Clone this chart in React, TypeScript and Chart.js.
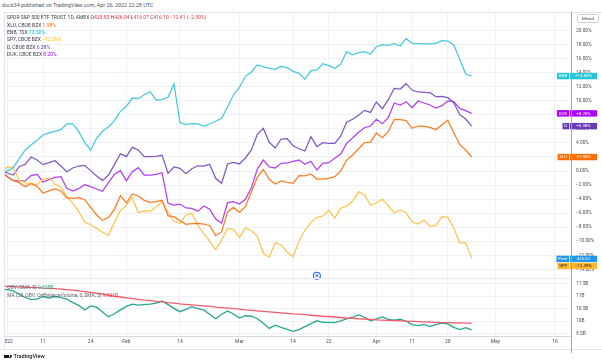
import React, { useEffect, useRef } from "react";
import { Chart, registerables } from "chart.js";

Chart.register(...registerables);

const FONT = "Roboto, 'Liberation Sans', Arial, sans-serif";

// trading-day index: -1 = Dec 31 2021, 0 = Jan 3 2022 ... 78 = Apr 26 2022
const firstIndex = -1;

const tickIndex = [0, 6, 14, 20, 29, 39, 48, 54, 62, 68, 74, 82, 92];
const tickLabels = ["2022", "11", "24", "Feb", "14", "Mar", "14", "22", "Apr", "11", "20", "May", "16"];

const pctTicks = [-14, -12, -10, -8, -6, -4, -2, 0, 2, 4, 6, 8, 10, 12, 14, 16, 18, 20];
const obvTicks = [9.5, 10, 10.5, 11, 11.5];
const obvTickLabels = ["9.5B", "10B", "10.5B", "11B", "11.5B"];

const enbValues = [0, 0.0, 0.47, 1.75, 2.99, 3.7, 4.36, 5.12, 5.41, 5.64, 5.88, 6.69, 6.69, 5.6, 4.08, 2.99, 4.65, 5.69, 6.26, 7.16, 8.49, 9.2, 10.38, 10.29, 10.85, 11.28, 10.1, 10.15, 10.48, 12.38, 6.88, 6.59, 6.73, 6.69, 6.4, 6.69, 7.07, 7.5, 9.15, 10.85, 11.9, 13.47, 14.08, 15.08, 14.84, 14.61, 14.47, 14.89, 14.7, 14.18, 13.9, 13.04, 14.27, 14.37, 15.26, 14.98, 14.61, 15.17, 16.97, 16.54, 16.83, 16.97, 16.64, 17.68, 17.97, 17.88, 18.11, 17.78, 18.82, 18.16, 18.11, 18.07, 18.07, 18.16, 18.54, 18.49, 17.92, 15.89, 13.8, 13.5];
const dValues = [0, -0.28, -0.57, 0.62, 0.95, 1.99, 1.56, 0.9, 1.18, 1.47, 0.71, -0.1, 0.43, 0.71, 0.81, 0.05, -0.71, -1.33, -0.57, 0.9, 2.46, 2.04, 3.37, 2.99, 2.04, 2.04, 2.09, 2.23, -0.33, 0.57, 0.38, -0.38, 0.33, 0.74, 0.71, 0.95, -1.04, -1.75, 1.0, 1.23, 1.0, 1.85, 2.99, 5.22, 6.07, 4.08, 3.27, 4.55, 4.6, 3.6, 3.17, 2.84, 4.88, 3.46, 4.03, 3.93, 3.93, 4.98, 6.93, 7.35, 7.92, 8.63, 8.34, 9.82, 8.87, 10.15, 11.76, 11.66, 12.42, 11.48, 11.24, 11.19, 11.14, 10.57, 10.62, 10.43, 9.72, 8.01, 7.4, 6.38];
const dukValues = [0, -0.81, -1.38, -1.42, -1.42, -0.66, -0.47, -1.56, -1.23, -0.9, -0.81, -2.46, -2.84, -2.51, -1.94, -2.23, -2.56, -2.89, -1.61, -0.47, 0.05, -1.38, -0.1, 0.47, -0.57, -0.57, -0.47, -0.24, -4.6, -4.84, -4.7, -5.26, -5.31, -5.74, -4.98, -5.45, -6.83, -7.44, -4.5, -4.36, -4.69, -4.03, -2.37, 0.28, 1.56, 0.57, 0.43, 1.09, 1.14, 1.38, 1.56, 0.95, 1.38, 0.14, 1.09, 1.19, 1.8, 2.42, 3.93, 4.69, 5.5, 6.16, 6.4, 7.35, 6.73, 7.6, 9.67, 9.39, 9.86, 9.0, 9.96, 9.67, 9.39, 8.96, 9.29, 9.96, 9.86, 8.91, 8.58, 8.2];
const xluValues = [0, -0.81, -1.33, -1.66, -2.23, -1.8, -2.18, -3.13, -2.84, -2.56, -2.84, -3.84, -3.89, -3.8, -4.08, -5.17, -6.26, -7.02, -6.59, -5.45, -3.51, -4.55, -3.27, -3.56, -4.17, -4.46, -4.36, -4.17, -6.4, -6.5, -7.07, -7.59, -7.5, -7.44, -7.54, -7.78, -9.2, -8.63, -5.83, -5.17, -5.88, -5.07, -2.94, -0.9, 0.24, -1.18, -1.85, -1.42, -1.61, -1.75, -0.66, -0.71, -0.43, -1.14, -1.14, -1.04, -0.81, 0.0, 1.56, 2.28, 3.17, 4.03, 4.1, 5.41, 4.74, 5.6, 7.35, 7.3, 7.16, 6.07, 6.4, 6.35, 6.21, 5.88, 6.59, 7.21, 5.45, 3.74, 2.99, 1.98];
const spyValues = [0, 0.57, 0.52, -1.33, -1.66, -1.75, -1.94, -1.23, -0.95, -1.9, -2.23, -3.7, -4.6, -5.74, -7.3, -7.64, -8.16, -8.72, -9.15, -7.25, -5.64, -4.88, -3.8, -5.93, -5.69, -5.74, -5.12, -4.41, -5.88, -7.16, -7.44, -6.26, -6.02, -7.7, -8.92, -10.0, -11.19, -9.82, -8.2, -8.3, -9.48, -8.11, -8.49, -9.25, -11.71, -12.28, -10.19, -10.53, -11.52, -12.19, -10.0, -8.39, -7.3, -6.59, -6.4, -5.59, -6.69, -5.31, -4.98, -4.31, -2.94, -3.41, -4.84, -4.55, -4.03, -4.95, -5.97, -5.55, -5.93, -7.25, -7.54, -6.97, -7.87, -7.73, -6.5, -6.59, -8.11, -10.24, -10.19, -12.39];

// OBV (SMA 5) and its 20-period MA, in billions
const obvValues = [11.27, 11.25, 11.2, 11.07, 10.95, 10.86, 10.88, 10.98, 10.92, 10.98, 10.94, 10.88, 10.74, 10.63, 10.45, 10.61, 10.56, 10.37, 10.18, 10.3, 10.45, 10.59, 10.68, 10.64, 10.66, 10.68, 10.72, 10.8, 10.66, 10.51, 10.38, 10.47, 10.58, 10.5, 10.45, 10.28, 10.1, 10.28, 10.41, 10.29, 10.13, 10.22, 10.2, 10.1, 9.92, 9.72, 9.85, 9.76, 9.68, 9.6, 9.67, 9.79, 9.91, 10.02, 9.96, 9.96, 9.95, 10.02, 10.1, 10.16, 10.25, 10.16, 10.02, 10.1, 10.17, 10.08, 10.05, 10.08, 10.0, 9.87, 9.83, 9.88, 9.79, 9.87, 9.93, 9.9, 9.76, 9.67, 9.75, 9.658];
const obvMaValues = [11.39, 11.38, 11.37, 11.36, 11.35, 11.34, 11.33, 11.31, 11.3, 11.29, 11.27, 11.25, 11.23, 11.2, 11.17, 11.14, 11.11, 11.07, 11.03, 10.99, 10.96, 10.93, 10.9, 10.87, 10.84, 10.82, 10.79, 10.77, 10.74, 10.72, 10.69, 10.67, 10.65, 10.63, 10.61, 10.59, 10.56, 10.54, 10.52, 10.5, 10.48, 10.45, 10.43, 10.41, 10.39, 10.37, 10.35, 10.33, 10.31, 10.29, 10.28, 10.26, 10.24, 10.22, 10.2, 10.19, 10.17, 10.15, 10.13, 10.12, 10.1, 10.09, 10.08, 10.06, 10.05, 10.04, 10.03, 10.02, 10.01, 10.0, 9.99, 9.98, 9.97, 9.96, 9.95, 9.95, 9.94, 9.94, 9.93, 9.931];

const dividendIndex = 52; // SPY ex-dividend, Mar 18
const postPrice = "416.61";

const series = [
  { name: "XLU", exch: "CBOE BZX", values: xluValues, line: "#ff7b22", tag: "#ff6d00", text: "#ff6d00", fg: "#ffffff" },
  { name: "ENB", exch: "TSX", values: enbValues, line: "#45c9dd", tag: "#26c6da", text: "#00bcd4", fg: "#ffffff" },
  { name: "SPY", exch: "CBOE BZX", values: spyValues, line: "#ffc34d", tag: "#ffb82e", text: "#ffb300", fg: "#131722" },
  { name: "D", exch: "CBOE BZX", values: dValues, line: "#7e57c2", tag: "#673ab7", text: "#673ab7", fg: "#ffffff" },
  { name: "DUK", exch: "CBOE BZX", values: dukValues, line: "#b33ff2", tag: "#aa00ff", text: "#aa00ff", fg: "#ffffff" },
];

// geometry (page px)
const PLOT_LEFT = 4;
const AXIS_X = 571;
const DAY0_X = 7.3;
const DAY_W = 5.953;
const X_MIN = (PLOT_LEFT - DAY0_X) / DAY_W;
const X_MAX = (AXIS_X - DAY0_X) / DAY_W;
const TOP_Y = 12;
const MAIN_BOTTOM = 278;
const ZERO_Y = 171;
const PX_PER_PCT = 7.03;
const PCT_MAX = (ZERO_Y - TOP_Y) / PX_PER_PCT;
const PCT_MIN = -(MAIN_BOTTOM - ZERO_Y) / PX_PER_PCT;
const LOW_BOTTOM = 336;
const TEN_B_Y = 321.3;
const PX_PER_B = 25.3;
const OBV_MAX = 10 + (TEN_B_Y - MAIN_BOTTOM) / PX_PER_B;
const OBV_MIN = 10 - (LOW_BOTTOM - TEN_B_Y) / PX_PER_B;

const GRID = "#eef1f7";
const TICK_COLOR = "#4a4d57";

const pts = (vals: number[]) => vals.map((v, k) => ({ x: k + firstIndex, y: v }));
const fmtPct = (v: number) => (v < 0 ? "\u2212" : "") + Math.abs(v).toFixed(2) + "%";
const fmtTag = (v: number) => (v < 0 ? "\u2212" : "+") + Math.abs(v).toFixed(2) + "%";

const noPad = (s: any) => {
  s.paddingLeft = 0;
  s.paddingRight = 0;
  s.paddingTop = 0;
  s.paddingBottom = 0;
};

const tagPlugin = {
  id: "tags",
  afterDraw(chart: any) {
    const ctx = chart.ctx;
    const ys = chart.scales.y;
    const xs = chart.scales.x;
    ctx.save();
    // dividend marker
    const dx = xs.getPixelForValue(dividendIndex);
    const dy = chart.chartArea.bottom - 2.3;
    ctx.beginPath();
    ctx.arc(dx, dy, 3.5, 0, Math.PI * 2);
    ctx.fillStyle = "#ffffff";
    ctx.fill();
    ctx.lineWidth = 1.1;
    ctx.strokeStyle = "#2962ff";
    ctx.stroke();
    ctx.beginPath();
    ctx.arc(dx, dy, 1.6, 0, Math.PI * 2);
    ctx.fillStyle = "#6f93ff";
    ctx.fill();

    ctx.font = `4.4px ${FONT}`;
    ctx.textBaseline = "middle";
    ctx.textAlign = "center";
    const split = AXIS_X - 2 - PLOT_LEFT;
    const draw = (name: string, text: string, py: number, bg: string, fg: string) => {
      const h = 6.4;
      const nw = ctx.measureText(name).width + 3.6;
      ctx.fillStyle = bg;
      ctx.fillRect(split - nw, py - h / 2, nw, h);
      ctx.fillRect(split + 0.7, py - h / 2, 27.4, h);
      ctx.fillStyle = fg;
      ctx.fillText(name, split - nw / 2, py + 0.2);
      ctx.fillText(text, split + 0.7 + 13.7, py + 0.2);
    };
    for (const s of series) {
      const last = s.values[s.values.length - 1];
      const py = ys.getPixelForValue(last);
      if (s.name === "SPY") {
        draw("Post", postPrice, py + 0.8, "#2196f3", "#ffffff");
        draw(s.name, fmtTag(last), py + 7.8, s.tag, s.fg);
      } else {
        draw(s.name, fmtTag(last), py, s.tag, s.fg);
      }
    }
    ctx.restore();
  },
};

function Txt(props: { x: number; y: number; size: number; children: any; color?: string; weight?: number }) {
  return (
    <div
      style={{
        position: "absolute",
        left: props.x,
        top: props.y - 4,
        height: 8,
        lineHeight: "8px",
        fontSize: props.size,
        color: props.color || "#3d404a",
        fontWeight: props.weight || 400,
        whiteSpace: "nowrap",
        fontFamily: FONT,
      }}
    >
      {props.children}
    </div>
  );
}

function Line(props: { x: number; y: number; w: number; h: number; c: string }) {
  return <div style={{ position: "absolute", left: props.x, top: props.y, width: props.w, height: props.h, background: props.c }} />;
}

export default function App() {
  const topRef = useRef<HTMLCanvasElement>(null);
  const botRef = useRef<HTMLCanvasElement>(null);

  useEffect(() => {
    const xTicksCb = (s: any) => {
      s.ticks = tickIndex.map((v) => ({ value: v }));
    };
    const top = new Chart(topRef.current as HTMLCanvasElement, {
      type: "line",
      data: {
        datasets: series.map((s) => ({
          data: pts(s.values),
          borderColor: s.line,
          borderWidth: 1.25,
          pointRadius: 0,
          tension: 0,
          fill: false,
        })),
      },
      options: {
        animation: false,
        responsive: false,
        devicePixelRatio: 1,
        layout: { padding: { left: 0, right: 0, top: 0, bottom: 2 } },
        plugins: { legend: { display: false }, tooltip: { enabled: false } },
        scales: {
          x: {
            type: "linear",
            min: X_MIN,
            max: X_MAX,
            afterBuildTicks: xTicksCb,
            afterFit: (s: any) => {
              s.height = 0;
              noPad(s);
            },
            ticks: { display: false },
            grid: { color: GRID, drawTicks: false },
            border: { display: false },
          },
          y: {
            position: "right",
            min: PCT_MIN,
            max: PCT_MAX,
            afterBuildTicks: (s: any) => {
              s.ticks = pctTicks.map((v) => ({ value: v }));
            },
            afterFit: (s: any) => {
              s.width = 31;
              noPad(s);
            },
            ticks: {
              callback: (v: any) => fmtPct(Number(v)),
              font: { family: FONT, size: 4.8 },
              color: TICK_COLOR,
              padding: 5,
            },
            grid: { color: GRID, drawTicks: false },
            border: { display: false },
          },
        },
      } as any,
      plugins: [tagPlugin],
    });

    const bottom = new Chart(botRef.current as HTMLCanvasElement, {
      type: "line",
      data: {
        datasets: [
          { data: pts(obvMaValues), borderColor: "#f45b69", borderWidth: 1.3, pointRadius: 0, tension: 0 },
          { data: pts(obvValues), borderColor: "#26a68e", borderWidth: 1.3, pointRadius: 0, tension: 0 },
        ],
      },
      options: {
        animation: false,
        responsive: false,
        devicePixelRatio: 1,
        layout: { padding: 0 },
        plugins: { legend: { display: false }, tooltip: { enabled: false } },
        scales: {
          x: {
            type: "linear",
            min: X_MIN,
            max: X_MAX,
            afterBuildTicks: xTicksCb,
            afterFit: (s: any) => {
              s.height = 13;
              noPad(s);
            },
            ticks: {
              callback: (_v: any, i: number) => tickLabels[i],
              font: { family: FONT, size: 5 },
              color: TICK_COLOR,
              padding: 3,
              maxRotation: 0,
              autoSkip: false,
            },
            grid: { color: GRID, drawTicks: false },
            border: { display: true, color: "#d6d9e0" },
          },
          y: {
            position: "right",
            min: OBV_MIN,
            max: OBV_MAX,
            afterBuildTicks: (s: any) => {
              s.ticks = obvTicks.map((v) => ({ value: v }));
            },
            afterFit: (s: any) => {
              s.width = 31;
              noPad(s);
            },
            ticks: {
              callback: (_v: any, i: number) => obvTickLabels[i],
              font: { family: FONT, size: 4.8 },
              color: TICK_COLOR,
              padding: 5,
            },
            grid: { color: GRID, drawTicks: false },
            border: { display: false },
          },
        },
      } as any,
    });

    return () => {
      top.destroy();
      bottom.destroy();
    };
  }, []);

  const red = "#f23645";

  return (
    <div style={{ position: "absolute", left: 0, top: 0, width: 602, height: 364, background: "#ffffff", overflow: "hidden", fontFamily: FONT }}>
      <Txt x={2} y={5} size={5.4} color="#50535e">
        dock34 published on TradingView.com, Apr 26, 2022 22:28 UTC
      </Txt>

      <canvas ref={topRef} width={598} height={268} style={{ position: "absolute", left: PLOT_LEFT, top: TOP_Y, width: 598, height: 268 }} />
      <canvas ref={botRef} width={598} height={71} style={{ position: "absolute", left: PLOT_LEFT, top: MAIN_BOTTOM, width: 598, height: 71 }} />

      {/* frame */}
      <Line x={PLOT_LEFT} y={TOP_Y} w={598} h={1} c="#e0e3eb" />
      <Line x={PLOT_LEFT} y={TOP_Y} w={1} h={337} c="#e0e3eb" />
      <Line x={PLOT_LEFT} y={MAIN_BOTTOM} w={AXIS_X - PLOT_LEFT} h={1} c="#e6e9ef" />
      <Line x={0} y={349} w={602} h={1} c="#e0e3eb" />
      <Line x={AXIS_X} y={TOP_Y} w={1} h={341} c="#a3a6af" />

      {/* Mixed button */}
      <div style={{ position: "absolute", left: 577, top: 13.5, width: 20, height: 7, border: "0.6px solid #c9ccd4", borderRadius: 1.5, fontSize: 4.4, lineHeight: "7px", textAlign: "center", color: "#3d404a", background: "#fff" }}>
        Mixed
      </div>

      {/* legend */}
      <Txt x={7} y={16.7} size={5}>
        SPDR S&amp;P 500 ETF TRUST, 1D, AMEX{"  "}
        <span>O</span><span style={{ color: red }}>425.83</span> <span>H</span><span style={{ color: red }}>426.04</span>{" "}
        <span>L</span><span style={{ color: red }}>416.07</span> <span>C</span><span style={{ color: red }}>416.10</span>{" "}
        <span style={{ color: red }}>{"\u221212.41 (\u22122.90%)"}</span>
      </Txt>
      {series.map((s, k) => (
        <Txt key={s.name} x={7} y={24.5 + k * 7.4} size={5}>
          {s.name}, {s.exch}{"  "}
          <span style={{ color: s.text }}>{fmtPct(s.values[s.values.length - 1])}</span>
        </Txt>
      ))}

      {/* lower pane legend */}
      <Txt x={7.3} y={287} size={4.9} color="#5d606b">
        OBV (SMA, 5){" "}
        <span style={{ color: "#26a68e" }}>{obvValues[obvValues.length - 1].toFixed(3)}B</span>
      </Txt>
      <Txt x={7.3} y={295} size={4.9} color="#5d606b">
        MA (20, OBV: OnBalanceVolume, 0, SMA, 5){" "}
        <span style={{ color: "#f23645" }}>{obvMaValues[obvMaValues.length - 1].toFixed(3)}B</span>
      </Txt>

      {/* TradingView logo */}
      <div style={{ position: "absolute", left: 4, top: 354.5, width: 4.5, height: 3.5, background: "#131722" }} />
      <div style={{ position: "absolute", left: 9.2, top: 354.5, width: 3, height: 3.5, background: "#131722", clipPath: "polygon(40% 0, 100% 0, 60% 100%, 0 100%)" }} />
      <Txt x={13.5} y={356.3} size={5.6} color="#131722" weight={500}>
        TradingView
      </Txt>
    </div>
  );
}
